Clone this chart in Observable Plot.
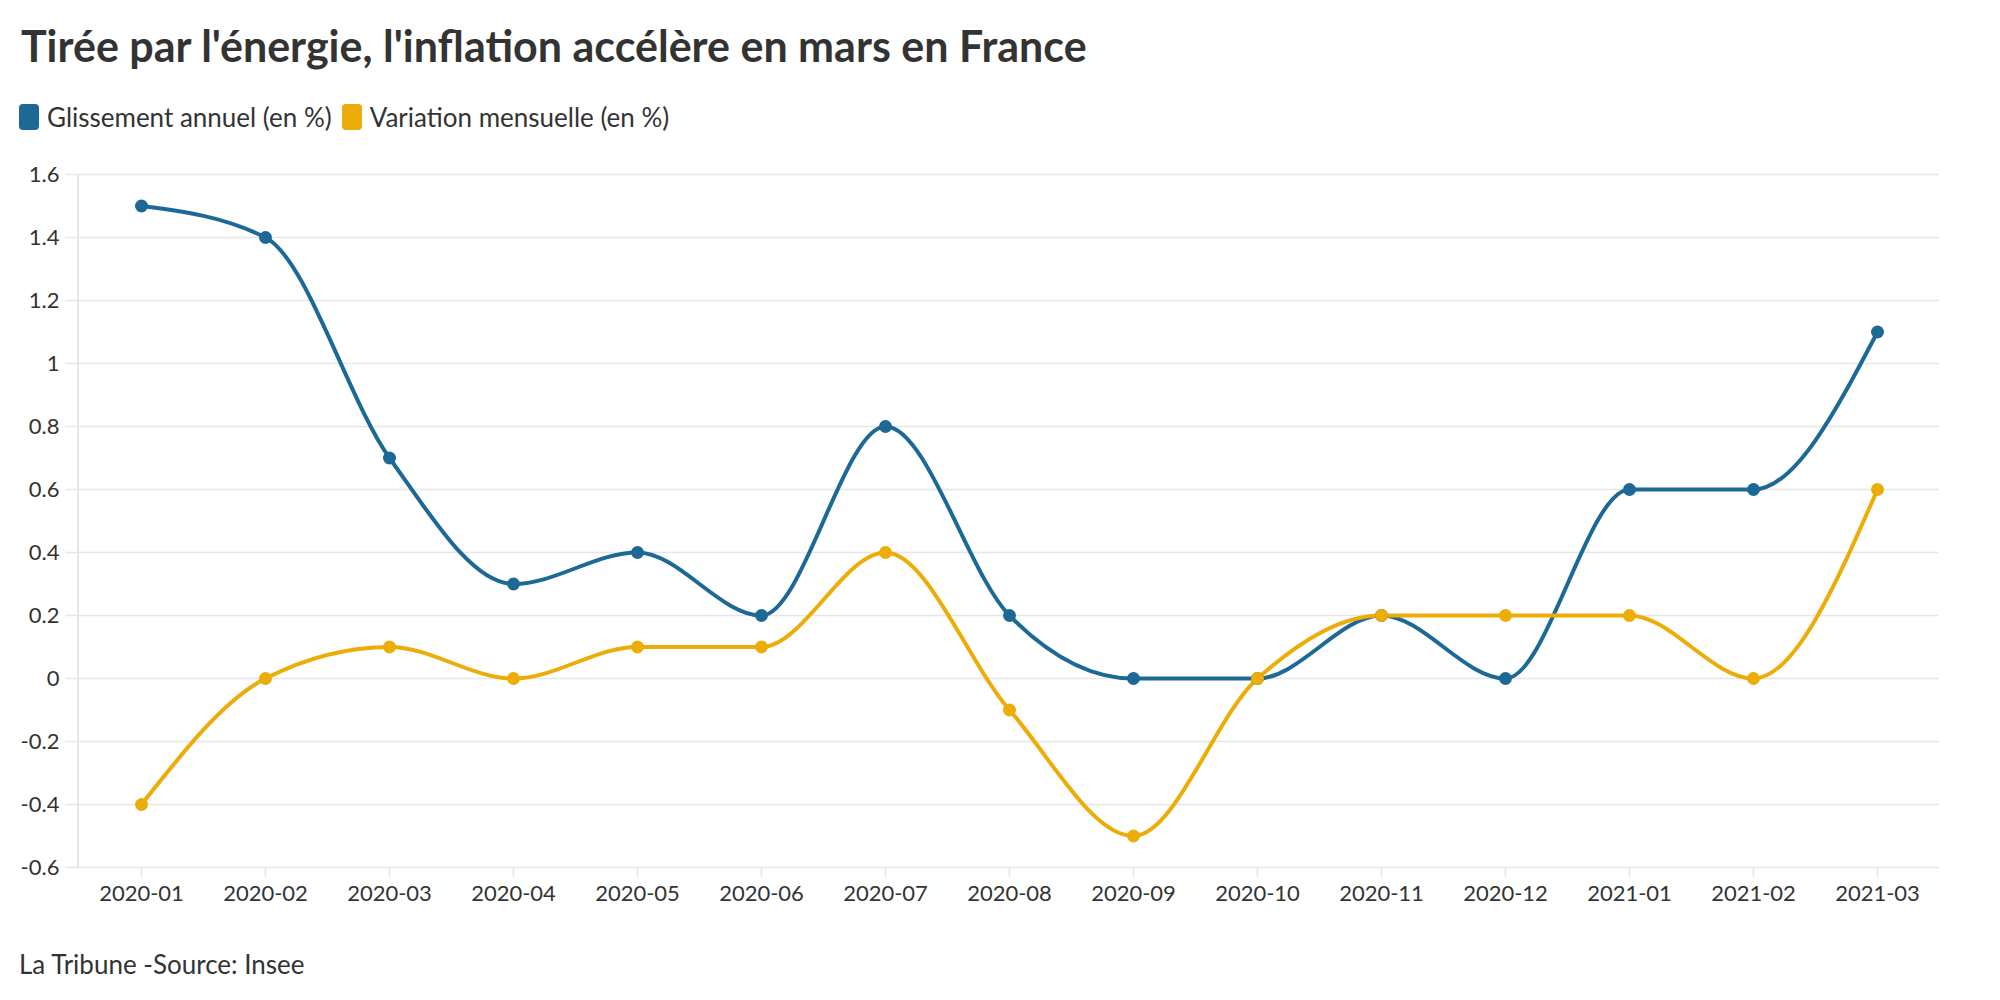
<!DOCTYPE html>
<html>
<head>
<meta charset="utf-8">
<script src="https://cdn.jsdelivr.net/npm/d3@7"></script>
<script src="https://cdn.jsdelivr.net/npm/@observablehq/plot@0.6"></script>
<style>
  html, body { margin: 0; padding: 0; background: #fff; }
  body { width: 2000px; height: 1000px; position: relative; overflow: hidden;
         font-family: "Source Sans Pro", Lato, "Noto Sans", sans-serif; color: #333; }
  .title { position: absolute; left: 21px; top: 21px; font-size: 43px; line-height: 50px;
           font-weight: 700; color: #333; white-space: nowrap; }
  .legend { position: absolute; left: 19px; top: 102px; height: 30px; display: flex;
            align-items: center; font-size: 26px; color: #333; }
  .legend .item { display: flex; align-items: center; margin-right: 10px; }
  .legend .swatch { width: 20px; height: 26px; border-radius: 4px; margin-right: 8px; }
  #plot { position: absolute; left: 0; top: 150px; }
  .caption { position: absolute; left: 19px; top: 949px; font-size: 26px; line-height: 30px; color: #333; }
</style>
</head>
<body>
<div class="title">Tirée par l'énergie, l'inflation accélère en mars en France</div>
<div class="legend" id="legend"></div>
<div id="plot"></div>
<div class="caption">La Tribune -Source: Insee</div>
<script>
// Monthly French inflation figures (Insee)
const months = ["2020-01", "2020-02", "2020-03", "2020-04", "2020-05", "2020-06", "2020-07",
                "2020-08", "2020-09", "2020-10", "2020-11", "2020-12", "2021-01", "2021-02", "2021-03"];
const glissementAnnuel = [1.5, 1.4, 0.7, 0.3, 0.4, 0.2, 0.8, 0.2, 0, 0, 0.2, 0, 0.6, 0.6, 1.1];
const variationMensuelle = [-0.4, 0, 0.1, 0, 0.1, 0.1, 0.4, -0.1, -0.5, 0, 0.2, 0.2, 0.2, 0, 0.6];
const seriesNames = ["Glissement annuel (en %)", "Variation mensuelle (en %)"];
const seriesColors = ["#1d6996", "#edad08"];
const yTicks = [-0.6, -0.4, -0.2, 0, 0.2, 0.4, 0.6, 0.8, 1, 1.2, 1.4, 1.6];

// Long-format table for Plot
const rows = [
  ...months.map((m, i) => ({month: m, value: glissementAnnuel[i], series: seriesNames[0]})),
  ...months.map((m, i) => ({month: m, value: variationMensuelle[i], series: seriesNames[1]}))
];

// Legend
const legend = document.getElementById("legend");
seriesNames.forEach((name, i) => {
  const item = document.createElement("div");
  item.className = "item";
  const sw = document.createElement("span");
  sw.className = "swatch";
  sw.style.background = seriesColors[i];
  const label = document.createElement("span");
  label.textContent = name;
  item.append(sw, label);
  legend.append(item);
});

const gridColor = "#e6e6e6";

// Vertical line along the left edge of the plot area
function leftEdge(index, scales, values, dims) {
  const line = document.createElementNS("http://www.w3.org/2000/svg", "line");
  const x = dims.marginLeft - 1;
  line.setAttribute("x1", x);
  line.setAttribute("x2", x);
  line.setAttribute("y1", scales.y(yTicks[yTicks.length - 1]));
  line.setAttribute("y2", scales.y(yTicks[0]));
  line.setAttribute("stroke", gridColor);
  line.setAttribute("stroke-width", 2);
  return line;
}

const chart = Plot.plot({
  width: 2000,
  height: 767,
  marginTop: 24,
  marginBottom: 50,
  marginLeft: 79,
  marginRight: 61,
  style: {fontFamily: "'Source Sans Pro', Lato, 'Noto Sans', sans-serif", fontSize: "22px", color: "#333", background: "transparent"},
  x: {type: "point", domain: months, padding: 0.5, label: null},
  y: {domain: [-0.6, 1.6], label: null},
  color: {domain: seriesNames, range: seriesColors},
  marks: [
    Plot.ruleY(yTicks, {stroke: gridColor, strokeWidth: 1.5, insetLeft: -14}),
    leftEdge,
    Plot.axisY({ticks: yTicks, tickSize: 0, tickPadding: 20, tickFormat: d => String(d), fill: "#333"}),
    Plot.axisX({tickSize: 10, tickPadding: 8, stroke: gridColor, strokeWidth: 1.5, fill: "#333"}),
    Plot.line(rows, {x: "month", y: "value", z: "series", stroke: "series", strokeWidth: 4, curve: "monotone-x"}),
    Plot.dot(rows, {x: "month", y: "value", fill: "series", r: 6.5})
  ]
});
document.getElementById("plot").append(chart);
</script>
</body>
</html>
